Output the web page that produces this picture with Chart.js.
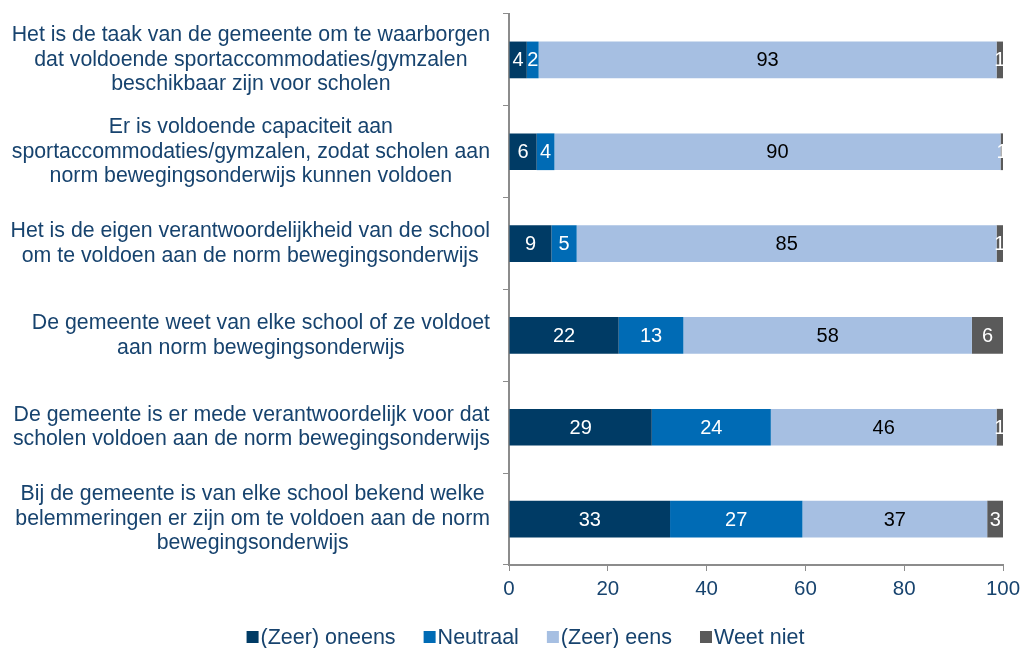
<!DOCTYPE html>
<html>
<head>
<meta charset="utf-8">
<script src="https://cdn.jsdelivr.net/npm/chart.js@4/dist/chart.umd.min.js"></script>
<style>
  html, body { margin: 0; padding: 0; background: #fff; }
  #wrap { width: 1024px; height: 648px; }
</style>
</head>
<body>
<div id="wrap"><canvas id="myChart" width="1024" height="648"></canvas></div>
<script>
window.onload = Main;

// vragen (y-as)
const categories = [
    ["Het is de taak van de gemeente om te waarborgen", "dat voldoende sportaccommodaties/gymzalen", "beschikbaar zijn voor scholen"],
    ["Er is voldoende capaciteit aan", "sportaccommodaties/gymzalen, zodat scholen aan", "norm bewegingsonderwijs kunnen voldoen"],
    ["Het is de eigen verantwoordelijkheid van de school", "om te voldoen aan de norm bewegingsonderwijs"],
    ["De gemeente weet van elke school of ze voldoet", "aan norm bewegingsonderwijs"],
    ["De gemeente is er mede verantwoordelijk voor dat", "scholen voldoen aan de norm bewegingsonderwijs"],
    ["Bij de gemeente is van elke school bekend welke", "belemmeringen er zijn om te voldoen aan de norm", "bewegingsonderwijs"]
];

// percentages per antwoord
const oneens   = [3.6, 5.6, 8.6, 22.2, 28.9, 32.6];
const neutraal = [2.4, 3.6, 5.1, 13.1, 24.1, 26.8];
const eens     = [92.7, 90.3, 85.0, 58.4, 45.7, 37.4];
const weetNiet = [1.3, 0.6, 1.3, 6.3, 1.3, 3.3];

const seriesNames = ["(Zeer) oneens", "Neutraal", "(Zeer) eens", "Weet niet"];
const xTicks = [0, 20, 40, 60, 80, 100];

const textBlue = "#17436e";
const fontFam = "'Liberation Sans', Arial, sans-serif";

// tekst in de balken
const barLabels = {
    id: "barLabels",
    afterDatasetsDraw(chart) {
        const ctx = chart.ctx;
        ctx.save();
        ctx.font = "20px " + fontFam;
        ctx.textAlign = "center";
        ctx.textBaseline = "middle";
        chart.data.datasets.forEach((ds, i) => {
            const meta = chart.getDatasetMeta(i);
            meta.data.forEach((bar, j) => {
                const cx = (bar.x + bar.base) / 2;
                ctx.fillStyle = ds.labelColor;
                ctx.fillText(Math.round(ds.data[j]), cx, bar.y + 1);
            });
        });
        ctx.restore();
    }
};

// vraagteksten links, als blok rechts uitgelijnd
const questionLabels = {
    id: "questionLabels",
    afterDraw(chart) {
        const ctx = chart.ctx;
        const yScale = chart.scales.y;
        const right = 490;
        const lh = 24.5;
        ctx.save();
        ctx.font = "21.3px " + fontFam;
        ctx.fillStyle = textBlue;
        ctx.textAlign = "center";
        ctx.textBaseline = "middle";
        categories.forEach((lines, i) => {
            const y = yScale.getPixelForValue(i);
            let w = 0;
            lines.forEach(l => { w = Math.max(w, ctx.measureText(l).width); });
            const cx = right - w / 2;
            const top = y - (lines.length - 1) * lh / 2;
            lines.forEach((l, k) => ctx.fillText(l, cx, top + k * lh));
        });
        ctx.restore();
    }
};

// legenda onderaan, compacter dan de standaard legenda
const bottomLegend = {
    id: "bottomLegend",
    afterDraw(chart) {
        const ctx = chart.ctx;
        const box = 12, gap = 2, spacing = 28, y = 637;
        ctx.save();
        ctx.font = "21.5px " + fontFam;
        ctx.textBaseline = "middle";
        ctx.textAlign = "left";
        const items = chart.data.datasets.map(ds => ({
            text: ds.label, color: ds.backgroundColor, w: ctx.measureText(ds.label).width
        }));
        let total = 0;
        items.forEach(it => { total += box + gap + it.w; });
        total += spacing * (items.length - 1);
        let x = 525.5 - total / 2;
        items.forEach(it => {
            ctx.fillStyle = it.color;
            ctx.fillRect(x, y - box / 2, box, box);
            ctx.fillStyle = textBlue;
            ctx.fillText(it.text, x + box + gap, y + 1);
            x += box + gap + it.w + spacing;
        });
        ctx.restore();
    }
};

function Main() {
    Chart.defaults.font.family = fontFam;
    Chart.defaults.font.size = 20;
    Chart.defaults.color = textBlue;

    const ctx = document.getElementById("myChart");
    new Chart(ctx, {
        type: "bar",
        data: {
            labels: categories.map((c, i) => i),
            datasets: [
                { label: seriesNames[0], data: oneens, backgroundColor: "#003b65", labelColor: "#ffffff" },
                { label: seriesNames[1], data: neutraal, backgroundColor: "#006bb5", labelColor: "#ffffff" },
                { label: seriesNames[2], data: eens, backgroundColor: "#a6bfe2", labelColor: "#000000" },
                { label: seriesNames[3], data: weetNiet, backgroundColor: "#5a5a5a", labelColor: "#ffffff" }
            ]
        },
        options: {
            indexAxis: "y",
            responsive: false,
            animation: false,
            layout: { padding: { top: 14, right: 21, left: 0, bottom: 47 } },
            datasets: { bar: { barPercentage: 0.4, categoryPercentage: 1 } },
            scales: {
                x: {
                    stacked: true,
                    min: 0,
                    max: 100,
                    afterBuildTicks: s => { s.ticks = xTicks.map(v => ({ value: v })); },
                    grid: { drawOnChartArea: false, tickLength: 6, color: "#8c8c8c" },
                    border: { color: "#8c8c8c", width: 2 },
                    ticks: { color: textBlue, padding: 6, font: { size: 20.5 } },
                    afterFit: s => { s.height = 36; s.paddingRight = 0; s.paddingLeft = 0; }
                },
                y: {
                    stacked: true,
                    grid: { drawOnChartArea: false, tickLength: 6, color: "#8c8c8c", offset: true },
                    border: { color: "#8c8c8c", width: 2 },
                    ticks: { display: false },
                    afterFit: s => { s.width = 509; }
                }
            },
            plugins: {
                legend: { display: false },
                tooltip: { enabled: false }
            }
        },
        plugins: [barLabels, questionLabels, bottomLegend]
    });
}
</script>
</body>
</html>
